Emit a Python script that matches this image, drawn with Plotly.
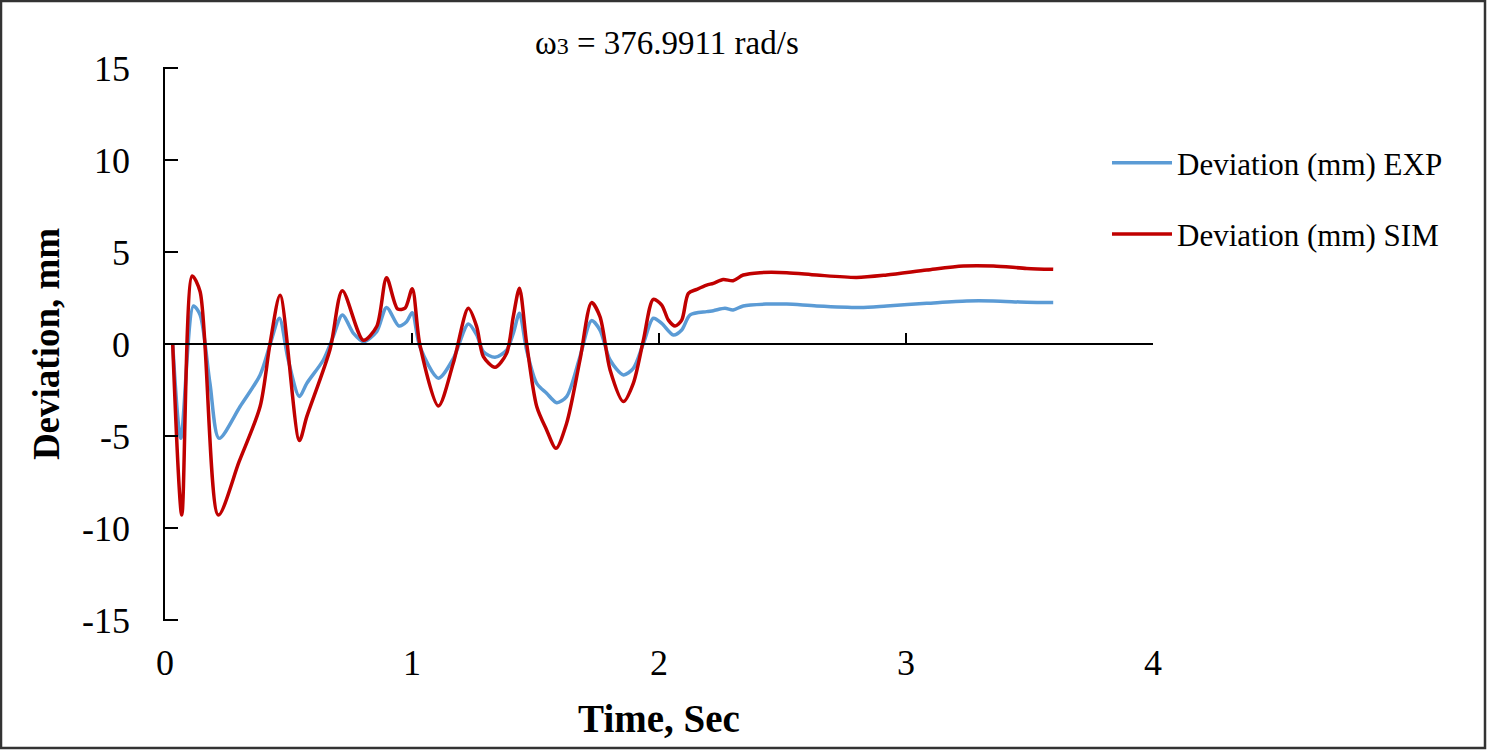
import plotly.graph_objects as go

# Data
exp_t = [0.031, 0.064, 0.115, 0.142, 0.182, 0.219, 0.304, 0.385, 0.425, 0.463, 0.499, 0.544, 0.574,
         0.641, 0.681, 0.718, 0.763, 0.803, 0.857, 0.897, 0.947, 0.978, 1.001, 1.032, 1.107, 1.167,
         1.228, 1.262, 1.289, 1.336, 1.383, 1.410, 1.435, 1.464, 1.505, 1.545, 1.586, 1.626, 1.680,
         1.727, 1.761, 1.802, 1.856, 1.896, 1.937, 1.977, 2.011, 2.058, 2.092, 2.126, 2.193, 2.220,
         2.267, 2.300, 2.341, 2.436, 2.517, 2.638, 2.814, 2.922, 3.084, 3.246, 3.354, 3.489, 3.596]
exp_dev = [0.05, -5.13, 2.07, 1.58, -2.14, -5.13, -3.40, -1.68, -0.05, 1.40, -0.87, -2.86, -2.14,
           -0.87, 0.40, 1.58, 0.58, 0.13, 0.67, 1.99, 0.98, 1.21, 1.70, -0.15, -1.86, -0.80,
           1.09, 0.49, -0.42, -0.72, -0.33, 0.58, 1.67, -0.33, -2.14, -2.68, -3.19, -2.86, -0.69,
           1.27, 0.76, -0.87, -1.68, -1.32, 0.04, 1.40, 1.12, 0.49, 0.76, 1.58, 1.76, 1.81,
           1.94, 1.85, 2.07, 2.17, 2.17, 2.07, 1.99, 2.07, 2.21, 2.34, 2.34, 2.27, 2.25]

sim_t = [0.031, 0.068, 0.110, 0.142, 0.216, 0.300, 0.385, 0.425, 0.466, 0.544, 0.574, 0.668, 0.718,
         0.803, 0.857, 0.897, 0.942, 0.972, 1.001, 1.032, 1.107, 1.167, 1.228, 1.262, 1.289, 1.336,
         1.383, 1.410, 1.435, 1.464, 1.505, 1.545, 1.583, 1.626, 1.680, 1.727, 1.761, 1.802, 1.856,
         1.896, 1.937, 1.977, 2.011, 2.038, 2.065, 2.092, 2.119, 2.153, 2.193, 2.220, 2.260, 2.300,
         2.341, 2.409, 2.517, 2.638, 2.800, 2.922, 3.084, 3.232, 3.354, 3.489, 3.596]
sim_dev = [0.05, -9.30, 3.70, 2.85, -9.30, -6.40, -3.40, 0.00, 2.65, -5.25, -3.95, -0.30, 2.90,
           0.20, 0.95, 3.60, 1.90, 1.95, 3.00, -0.05, -3.37, -1.05, 1.94, 0.94, -0.69, -1.27,
           -0.51, 1.49, 3.03, 0.04, -3.40, -4.67, -5.67, -4.31, -0.87, 2.25, 1.49, -1.41, -3.13,
           -2.14, 0.22, 2.43, 2.12, 1.30, 0.98, 1.30, 2.75, 2.97, 3.20, 3.30, 3.51, 3.44,
           3.75, 3.88, 3.88, 3.75, 3.62, 3.75, 4.02, 4.24, 4.24, 4.11, 4.06]

x_ticks = [0, 1, 2, 3, 4]
x_labels = ["0", "1", "2", "3", "4"]
y_ticks = [-15, -10, -5, 0, 5, 10, 15]
y_labels = ["-15", "-10", "-5", "0", "5", "10", "15"]

W, H = 1487, 750
L, R, T, B = 165, 334, 67, 129
pw, ph = W - L - R, H - T - B

FONT = "Liberation Serif, Times New Roman, serif"

fig = go.Figure()
fig.add_trace(go.Scatter(x=exp_t, y=exp_dev, mode="lines", name="Deviation (mm) EXP",
                         line=dict(color="#5B9BD5", width=3.5, shape="spline", smoothing=0.8),
                         legendgroup="a"))
fig.add_trace(go.Scatter(x=sim_t, y=sim_dev, mode="lines", name="Deviation (mm) SIM",
                         line=dict(color="#C00000", width=3.5, shape="spline", smoothing=0.8),
                         legendgroup="b"))
# empty trace to create the overlaid axis at y = 0
fig.add_trace(go.Scatter(x=[None], y=[None], xaxis="x2", showlegend=False, hoverinfo="skip"))

fig.update_layout(
    width=W, height=H,
    margin=dict(l=L, r=R, t=T, b=B),
    paper_bgcolor="white", plot_bgcolor="white",
    font=dict(family=FONT, color="black"),
    showlegend=True,
    legend=dict(x=(1107 - L) / pw, y=(H - B - 136) / ph, xanchor="left", yanchor="top",
                font=dict(size=31, family=FONT), tracegroupgap=28,
                bgcolor="rgba(0,0,0,0)", itemwidth=60),
    xaxis=dict(range=[0, 4], tickvals=x_ticks, ticktext=x_labels, showline=False, zeroline=False,
               showgrid=False, ticks="", tickfont=dict(size=36, family=FONT), ticklabelstandoff=17,
               title=dict(text="<b>Time, Sec</b>", font=dict(size=39, family=FONT), standoff=22)),
    xaxis2=dict(range=[0, 4], overlaying="x", anchor="free", position=0.5, side="bottom",
                tickvals=x_ticks, showticklabels=False, showline=True, linecolor="black",
                linewidth=1.5, ticks="inside", ticklen=10, tickcolor="black", tickwidth=1.5,
                showgrid=False, zeroline=False),
    yaxis=dict(range=[-15.06, 15.06], tickvals=y_ticks, ticktext=y_labels, showline=True,
               linecolor="black", linewidth=1.5,
               ticks="inside", ticklen=13, tickcolor="black", tickwidth=1.5, showgrid=False,
               zeroline=False, tickfont=dict(size=36, family=FONT), ticklabelstandoff=26,
               title=dict(text="<b>Deviation, mm</b>", font=dict(size=37, family=FONT), standoff=11)),
)

fig.add_annotation(text="ω<span style='font-size:24px'>3</span> = 376.9911 rad/s",
                   xref="paper", yref="paper",
                   x=(667 - L) / pw, y=(H - B - 43) / ph, xanchor="center", yanchor="middle",
                   showarrow=False, font=dict(size=33, family=FONT, color="black"))

# outer frame
fig.add_shape(type="rect", xref="paper", yref="paper",
              x0=(1 - L) / pw, x1=(W - 2 - L) / pw,
              y0=(H - B - (H - 2)) / ph, y1=(H - B - 1) / ph,
              line=dict(color="#333333", width=2.5), layer="above")

fig.write_html("out.html", config={"displayModeBar": False},
               post_script="document.body.style.margin='0px';document.body.style.overflow='hidden';")
